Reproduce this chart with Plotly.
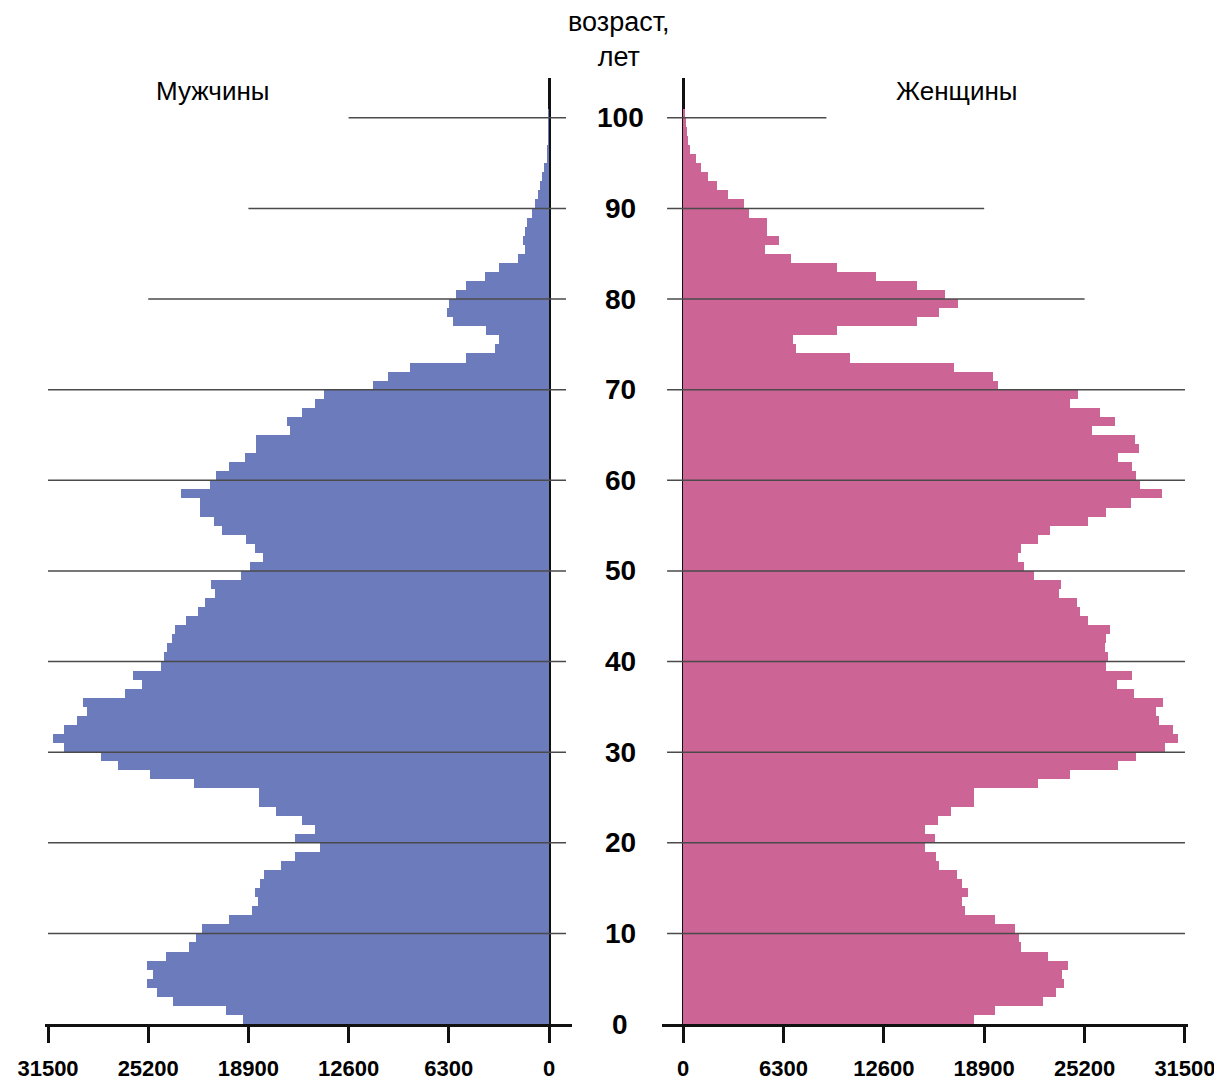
import plotly.graph_objects as go

ages = list(range(0, 101))

male = [19250, 20340, 23650, 24660, 25260, 24900, 25300, 24100, 22660, 22200,
        21830, 20140, 18650, 18300, 18460, 18170, 17930, 16850, 15940, 14400,
        15940, 14690, 15530, 17140, 18250, 18250, 22330, 25070, 27110, 28140,
        30470, 31190, 30470, 29700, 29030, 29290, 26650, 25570, 26150, 24420,
        24230, 24010, 23700, 23530, 22810, 22070, 21660, 21010, 21230, 19380,
        18780, 17980, 18460, 19060, 20580, 21060, 21970, 21970, 23170, 21300,
        20940, 20140, 19140, 18420, 18420, 16300, 16500, 15540, 14690, 14140,
        11040, 10130, 8760, 5210, 3410, 3170, 3960, 6050, 6410, 6290,
        5860, 5210, 4010, 3170, 1970, 1490, 1660, 1490, 1370, 1060,
        890, 700, 580, 460, 290, 150, 100, 60, 40, 20,
        10]

female = [18280, 19550, 22560, 23400, 23880, 23760, 24190, 22920, 21240, 21070,
          20830, 19550, 17680, 17510, 17870, 17510, 17220, 16070, 15870, 15180,
          15820, 15180, 16020, 16790, 18230, 18230, 22270, 24290, 27320, 28450,
          30250, 31050, 30740, 29890, 29700, 30130, 28280, 27250, 28160, 26530,
          26650, 26450, 26530, 26770, 25400, 24920, 24720, 23570, 23690, 22010,
          21400, 21000, 21240, 22250, 23040, 25400, 26530, 28090, 30060, 28690,
          28450, 28160, 27320, 28620, 28380, 25640, 27080, 26170, 24290, 24800,
          19790, 19430, 17030, 10490, 7120, 6880, 9640, 14690, 16070, 17270,
          16430, 14690, 12100, 9640, 6760, 5120, 6010, 5290, 5290, 4110,
          3850, 2840, 2120, 1590, 1150, 790, 430, 310, 240, 190,
          150]

x_ticks = [0, 6300, 12600, 18900, 25200, 31500]
x_tick_labels = ["0", "6300", "12600", "18900", "25200", "31500"]

age_ticks = [0, 10, 20, 30, 40, 50, 60, 70, 80, 90, 100]
grid_ages = [10, 20, 30, 40, 50, 60, 70, 80, 90, 100]
grid_left_extent = [31500, 31500, 31500, 31500, 31500, 31500, 31500, 25200, 18900, 12600]
grid_right_extent = [31500, 31500, 31500, 31500, 31500, 31500, 31500, 25200, 18900, 9000]

MALE_COLOR = "#6B7BBC"
FEMALE_COLOR = "#CC6595"

# the page body adds an 8px margin; shift the drawing up/left by that amount
OFF = 8
W, H = 1222, 1079


def px(xp):
    return (xp - OFF) / W


def py(yp):
    return 1 - (yp - OFF) / H


fig = go.Figure()
fig.add_trace(go.Bar(x=male, y=ages, orientation="h", offset=0, width=1,
                     marker=dict(color=MALE_COLOR, line=dict(width=0)),
                     xaxis="x", yaxis="y", showlegend=False, hoverinfo="x+y"))
fig.add_trace(go.Bar(x=female, y=ages, orientation="h", offset=0, width=1,
                     marker=dict(color=FEMALE_COLOR, line=dict(width=0)),
                     xaxis="x2", yaxis="y2", showlegend=False, hoverinfo="x+y"))

tickfont = dict(family="Liberation Sans, Arial, sans-serif", size=22, color="black", weight="bold")
common_x = dict(showgrid=False, zeroline=True, zerolinecolor="#111", zerolinewidth=3,
                showline=True, linecolor="#111", linewidth=3,
                ticks="outside", ticklen=16, tickwidth=3, tickcolor="#111",
                tickvals=x_ticks, ticktext=x_tick_labels, tickfont=tickfont,
                ticklabelstandoff=7, automargin=False,
                layer="above traces", fixedrange=True)
y_range = [0, 104.4]
common_y = dict(range=y_range, showgrid=False, zeroline=False, showline=False,
                showticklabels=False, ticks="", automargin=False, fixedrange=True)

ydom = [py(1024), py(78)]
fig.update_layout(
    template="none",
    width=W, height=H,
    margin=dict(l=0, r=0, t=0, b=0, autoexpand=False),
    paper_bgcolor="white", plot_bgcolor="white",
    bargap=0,
    xaxis=dict(domain=[px(45), px(572)], range=[31690, -1446], anchor="y", **common_x),
    xaxis2=dict(domain=[px(662), px(1188)], range=[-1318, 31690], anchor="y2", **common_x),
    yaxis=dict(domain=ydom, anchor="x", **common_y),
    yaxis2=dict(domain=ydom, anchor="x2", **common_y),
)

shapes = []
for a, ext in zip(grid_ages, grid_left_extent):
    shapes.append(dict(type="line", xref="x", yref="y", x0=ext, x1=-1070, y0=a, y1=a,
                       line=dict(color="#4a4a4a", width=1.5), layer="above"))
for a, ext in zip(grid_ages, grid_right_extent):
    shapes.append(dict(type="line", xref="x2", yref="y2", x0=-1000, x1=ext, y0=a, y1=a,
                       line=dict(color="#4a4a4a", width=1.5), layer="above"))
fig.update_layout(shapes=shapes)

annotations = []
for a in age_ticks:
    annotations.append(dict(text=str(a), xref="paper", yref="y", x=px(620), y=a,
                            xanchor="center", yanchor="middle", showarrow=False,
                            font=dict(family="Liberation Sans, Arial, sans-serif", size=28,
                                      color="black", weight="bold")))
annotations.append(dict(text="возраст,<br>лет", xref="paper", yref="paper",
                        x=px(619), y=py(40), xanchor="center", yanchor="middle",
                        showarrow=False,
                        font=dict(family="Liberation Sans, Arial, sans-serif", size=27, color="black")))
txtfont = dict(family="Liberation Sans, Arial, sans-serif", size=26, color="black")
annotations.append(dict(text="Мужчины", xref="paper", yref="paper",
                        x=px(213), y=py(91), xanchor="center", yanchor="middle",
                        showarrow=False, font=txtfont))
annotations.append(dict(text="Женщины", xref="paper", yref="paper",
                        x=px(956), y=py(91), xanchor="center", yanchor="middle",
                        showarrow=False, font=txtfont))
fig.update_layout(annotations=annotations)

fig.write_html("out.html")
